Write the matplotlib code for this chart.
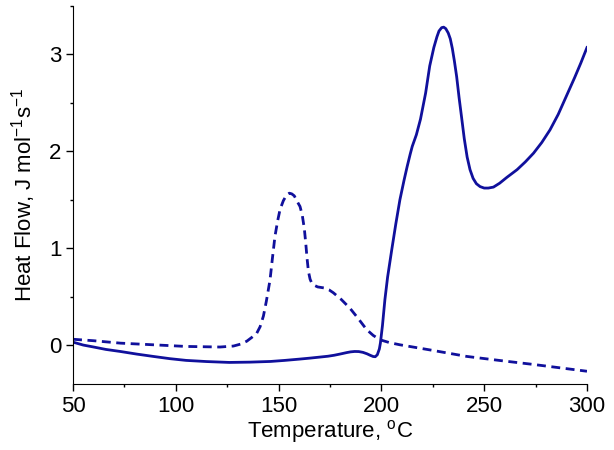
import numpy as np
import matplotlib
matplotlib.use('Agg')
import matplotlib.pyplot as plt
from matplotlib.ticker import MultipleLocator

plt.rcParams['font.family'] = ['Liberation Sans', 'DejaVu Sans']
plt.rcParams['mathtext.fontset'] = 'custom'
plt.rcParams['mathtext.rm'] = 'Liberation Sans'
plt.rcParams['mathtext.it'] = 'Liberation Sans:italic'

# solid curve
t_solid = [50, 55, 60, 66, 73, 81, 89, 97, 105, 115, 126, 136, 146, 153, 160, 165, 170,
           174, 177, 180, 183, 185, 187, 189, 191, 193, 194.5, 196, 197, 198, 199,
           199.5, 200.5, 201.7, 203, 205, 207, 209, 211, 212.5, 214, 215, 217, 219,
           221.5, 223.5, 225.5, 227, 228, 229.3, 230.3, 231.3, 232.5, 233.5, 234.5,
           235.5, 236.6, 237.8, 239, 240.3, 241.7, 243.1, 244.6, 246.2, 248, 250,
           252, 254.5, 257.5, 261, 266, 270, 274, 278, 282, 286, 290, 294, 297, 300]
hf_solid = [0.03, 0.0, -0.02, -0.045, -0.066, -0.093, -0.117, -0.14, -0.158, -0.17,
            -0.179, -0.176, -0.169, -0.158, -0.145, -0.135, -0.124, -0.115, -0.105,
            -0.092, -0.078, -0.07, -0.066, -0.067, -0.075, -0.09, -0.105, -0.118,
            -0.12, -0.1, -0.04, 0.02, 0.2, 0.47, 0.7, 0.98, 1.25, 1.5, 1.7, 1.84,
            1.97, 2.05, 2.17, 2.33, 2.6, 2.88, 3.07, 3.18, 3.24, 3.275, 3.28, 3.265,
            3.22, 3.16, 3.06, 2.93, 2.77, 2.55, 2.35, 2.13, 1.94, 1.81, 1.72, 1.665,
            1.635, 1.62, 1.62, 1.63, 1.67, 1.73, 1.81, 1.89, 1.98, 2.09, 2.22, 2.38,
            2.57, 2.76, 2.91, 3.07]

# dashed curve
t_dash = [50, 60, 73, 89, 105, 121.5, 128, 131.5, 134.5, 137, 139.3, 141, 142.6, 144,
          145.8, 147, 148.2, 149.5, 150.7, 152.3, 153.9, 155.2, 156.4, 157.6, 158.6,
          159.6, 160.4, 161.5, 162.5, 163.2, 163.8, 164.5, 165.3, 166.1, 167.5, 169,
          172, 174.5, 176.6, 180.5, 184.7, 188.5, 192.8, 196, 199.3, 204, 209, 225,
          241.5, 258, 274, 287, 300]
hf_dash = [0.06, 0.045, 0.02, 0.003, -0.014, -0.02, -0.01, 0.01, 0.04, 0.08, 0.12,
           0.19, 0.30, 0.45, 0.67, 0.9, 1.12, 1.28, 1.40, 1.49, 1.55, 1.567, 1.56,
           1.54, 1.5, 1.46, 1.43, 1.34, 1.2, 1.05, 0.9, 0.76, 0.68, 0.64, 0.615,
           0.60, 0.59, 0.57, 0.54, 0.47, 0.38, 0.28, 0.16, 0.1, 0.055, 0.025, 0.003,
           -0.055, -0.117, -0.16, -0.2, -0.235, -0.27]

col = '#10109c'
fig = plt.figure(figsize=(6.14, 4.5), dpi=100)
ax = fig.add_axes([0.119, 0.147, 0.837, 0.84])

ax.plot(t_solid, hf_solid, color=col, lw=2.0, solid_joinstyle='round')
ax.plot(t_dash, hf_dash, color=col, lw=2.0, linestyle=(0, (3.2, 2.0)))

ax.set_xlim(50, 300)
ax.set_ylim(-0.4, 3.5)
ax.xaxis.set_major_locator(MultipleLocator(50))
ax.xaxis.set_minor_locator(MultipleLocator(25))
ax.yaxis.set_major_locator(MultipleLocator(1))
ax.yaxis.set_minor_locator(MultipleLocator(0.5))
ax.spines['top'].set_visible(False)
ax.spines['right'].set_visible(False)
ax.tick_params(which='major', direction='out', length=5, width=1, labelsize=16)
ax.tick_params(which='minor', direction='out', length=2.5, width=1)

ax.set_xlabel(r'Temperature, $^{\rm o}$C', fontsize=16, labelpad=1)
ax.set_ylabel(r'Heat Flow, J mol$^{-1}$s$^{-1}$', fontsize=16, labelpad=8)

fig.savefig('out.png', dpi=100)
